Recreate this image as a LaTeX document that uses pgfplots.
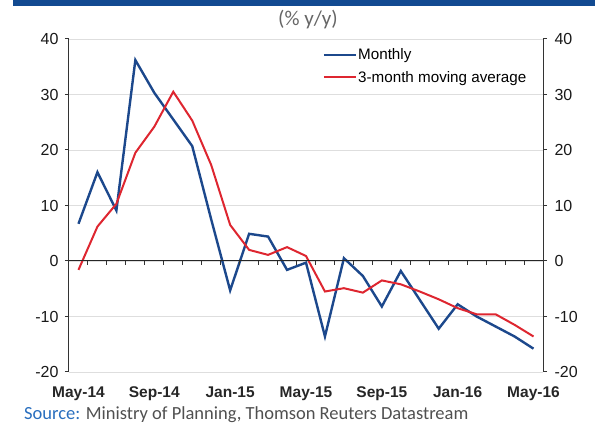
\documentclass[border=0pt]{standalone}
\usepackage{fontspec}
\setmainfont{Liberation Sans}
\newfontfamily\srcfont{Carlito}
\usepackage{pgfplots}
\pgfplotsset{compat=1.18}
\definecolor{mblue}{RGB}{28,72,140}
\definecolor{mred}{RGB}{222,38,48}
\definecolor{hblue}{RGB}{18,74,145}
\definecolor{srcblue}{RGB}{40,110,190}
\definecolor{srcgray}{RGB}{80,80,80}
\definecolor{gridgray}{RGB}{222,222,222}
\pgfplotstableread{
x monthly mavg
0 6.7 -1.6
1 16.0 6.2
2 9.1 10.3
3 36.2 19.5
4 30.3 24.2
5 25.5 30.5
6 20.7 25.3
7 7.5 17.3
8 -5.3 6.5
9 4.9 2.0
10 4.4 1.1
11 -1.6 2.5
12 -0.3 0.9
13 -13.6 -5.5
14 0.5 -4.9
15 -2.7 -5.7
16 -8.2 -3.5
17 -1.8 -4.2
18 -7.0 -5.5
19 -12.2 -6.9
20 -7.8 -8.5
21 -10.0 -9.6
22 -11.8 -9.6
23 -13.6 -11.5
24 -15.8 -13.6
}\datatable
\begin{document}
\begin{tikzpicture}
\useasboundingbox (0,0) rectangle (595pt,430pt);
\fill[hblue] (13pt,424pt) rectangle (595pt,432pt);
\node[font=\srcfont\fontsize{21}{24}\selectfont, text=black!60] at (308pt,410pt) {(\% y/y)};
\node[anchor=west, font=\srcfont\fontsize{18.5}{21}\selectfont, inner sep=0pt] at (24pt,15pt) {\textcolor{srcblue}{Source:} \textcolor{srcgray}{Ministry of Planning, Thomson Reuters Datastream}};
\begin{axis}[
  at={(69pt,58pt)}, anchor=south west,
  scale only axis, width=474pt, height=333pt,
  xmin=-0.5, xmax=24.5, ymin=-20, ymax=40,
  axis y line*=left, axis x line*=bottom,
  x axis line style={draw=none},
  y axis line style={black!80, line width=1pt},
  xtick={0,4,8,12,16,20,24},
  xticklabels={May-14,Sep-14,Jan-15,May-15,Sep-15,Jan-16,May-16},
  xtick style={draw=none},
  xticklabel style={font=\bfseries\fontsize{15.5}{17}\selectfont, text=black!85, yshift=-7pt},
  ytick={-20,-10,0,10,20,30,40},
  yticklabel style={font=\fontsize{16}{18}\selectfont, text=black!90, xshift=-3pt},
  ytick style={black!80, line width=1pt},
  tick align=outside, major tick length=4pt,
  ymajorgrids, grid style={gridgray, line width=0.8pt},
  /pgf/number format/assume math mode=true,
  legend style={draw=none, fill=none, at={(0.535,0.975)}, anchor=north west,
    font=\fontsize{15.2}{17}\selectfont, row sep=8pt, inner sep=0pt,
    nodes={inner sep=1pt}},
  legend cell align=left,
  legend image code/.code={\draw[#1] (0pt,0pt) -- (32pt,0pt);},
]
\addplot[mblue, line width=2.4pt, no markers] table[x=x, y=monthly] {\datatable};
\addlegendentry{Monthly}
\addplot[mred, line width=2pt, no markers] table[x=x, y=mavg] {\datatable};
\addlegendentry{3-month moving average}
\end{axis}
\begin{axis}[
  at={(69pt,58pt)}, anchor=south west,
  scale only axis, width=474pt, height=333pt,
  xmin=-0.5, xmax=24.5, ymin=-20, ymax=40,
  axis y line*=right, axis x line*=middle,
  x axis line style={black!85, line width=1pt, -},
  y axis line style={black!80, line width=1pt},
  xtick={0.5,1.5,...,23.5}, xticklabels={},
  ytick={-20,-10,0,10,20,30,40},
  yticklabel style={font=\fontsize{16}{18}\selectfont, text=black!90, xshift=4pt},
  tick style={black!80, line width=1pt},
  tick align=outside, major tick length=4pt,
  /pgf/number format/assume math mode=true,
]
\end{axis}
\end{tikzpicture}
\end{document}
